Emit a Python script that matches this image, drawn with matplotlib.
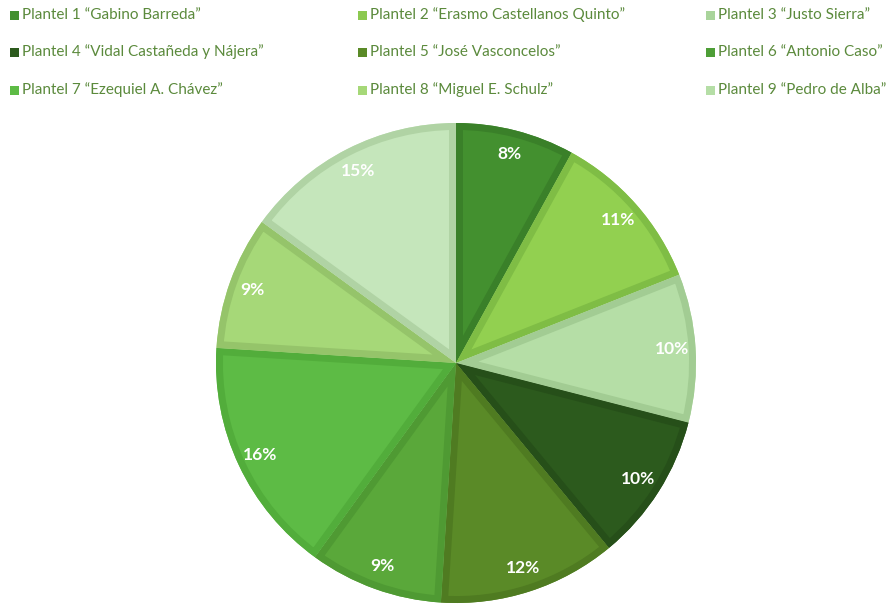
import matplotlib
matplotlib.use("Agg")
import matplotlib.pyplot as plt
from matplotlib.patches import Rectangle, Wedge

labels = [
    "Plantel 1 \u201cGabino Barreda\u201d",
    "Plantel 2 \u201cErasmo Castellanos Quinto\u201d",
    "Plantel 3 \u201cJusto Sierra\u201d",
    "Plantel 4 \u201cVidal Casta\u00f1eda y N\u00e1jera\u201d",
    "Plantel 5 \u201cJos\u00e9 Vasconcelos\u201d",
    "Plantel 6 \u201cAntonio Caso\u201d",
    "Plantel 7 \u201cEzequiel A. Ch\u00e1vez\u201d",
    "Plantel 8 \u201cMiguel E. Schulz\u201d",
    "Plantel 9 \u201cPedro de Alba\u201d",
]
values = [8, 11, 10, 10, 12, 9, 16, 9, 15]
fill_colors = ["#43902f", "#92d050", "#b5dea6", "#2c5a1d", "#5a8a27",
               "#5aa83a", "#5dbb45", "#a6d878", "#c5e6bb"]
edge_colors = ["#3a8029", "#7fbd45", "#a2cc93", "#264f19", "#4f7b21",
               "#4f9a33", "#52ad3b", "#95c46a", "#b0d3a4"]
legend_colors = ["#43902f", "#8cc950", "#a9d49b", "#2c5a1d", "#5a8a27",
                 "#4d9e36", "#5dbb45", "#a6d878", "#b5dea6"]

plt.rcParams['font.family'] = ['Lato', 'DejaVu Sans']

W, H = 887, 604
fig = plt.figure(figsize=(W / 100, H / 100), dpi=100)
ax = fig.add_axes([0, 0, 1, 1])

wedges, texts, autotexts = ax.pie(
    values, colors=fill_colors, startangle=90, counterclock=False,
    center=(456, 241), radius=240, autopct='%1.0f%%', pctdistance=0.9,
    textprops=dict(color='white', fontsize=12.5, fontweight='bold'),
    wedgeprops=dict(linewidth=0), frame=True)
ax.set_xlim(0, W)
ax.set_ylim(0, H)
ax.set_aspect('equal')
ax.axis('off')

for w, ec in zip(wedges, edge_colors):
    b = Wedge(w.center, w.r, w.theta1, w.theta2, facecolor='none',
              edgecolor=ec, linewidth=10, zorder=w.get_zorder() + 0.1)
    ax.add_patch(b)
    b.set_clip_path(w)
for t in autotexts:
    t.set_zorder(5)

# legend grid
col_x = [10, 358, 706]
row_y = [15, 52, 90]
text_color = "#5b8a3c"
for i, (lab, c) in enumerate(zip(labels, legend_colors)):
    r, cidx = divmod(i, 3)
    x = col_x[cidx]
    y = H - row_y[r]
    ax.add_patch(Rectangle((x, y - 5), 9, 9, facecolor=c, edgecolor='none'))
    ax.text(x + 12, y, lab, color=text_color, fontsize=11, va='center', ha='left')

fig.savefig("out.png", dpi=100)
